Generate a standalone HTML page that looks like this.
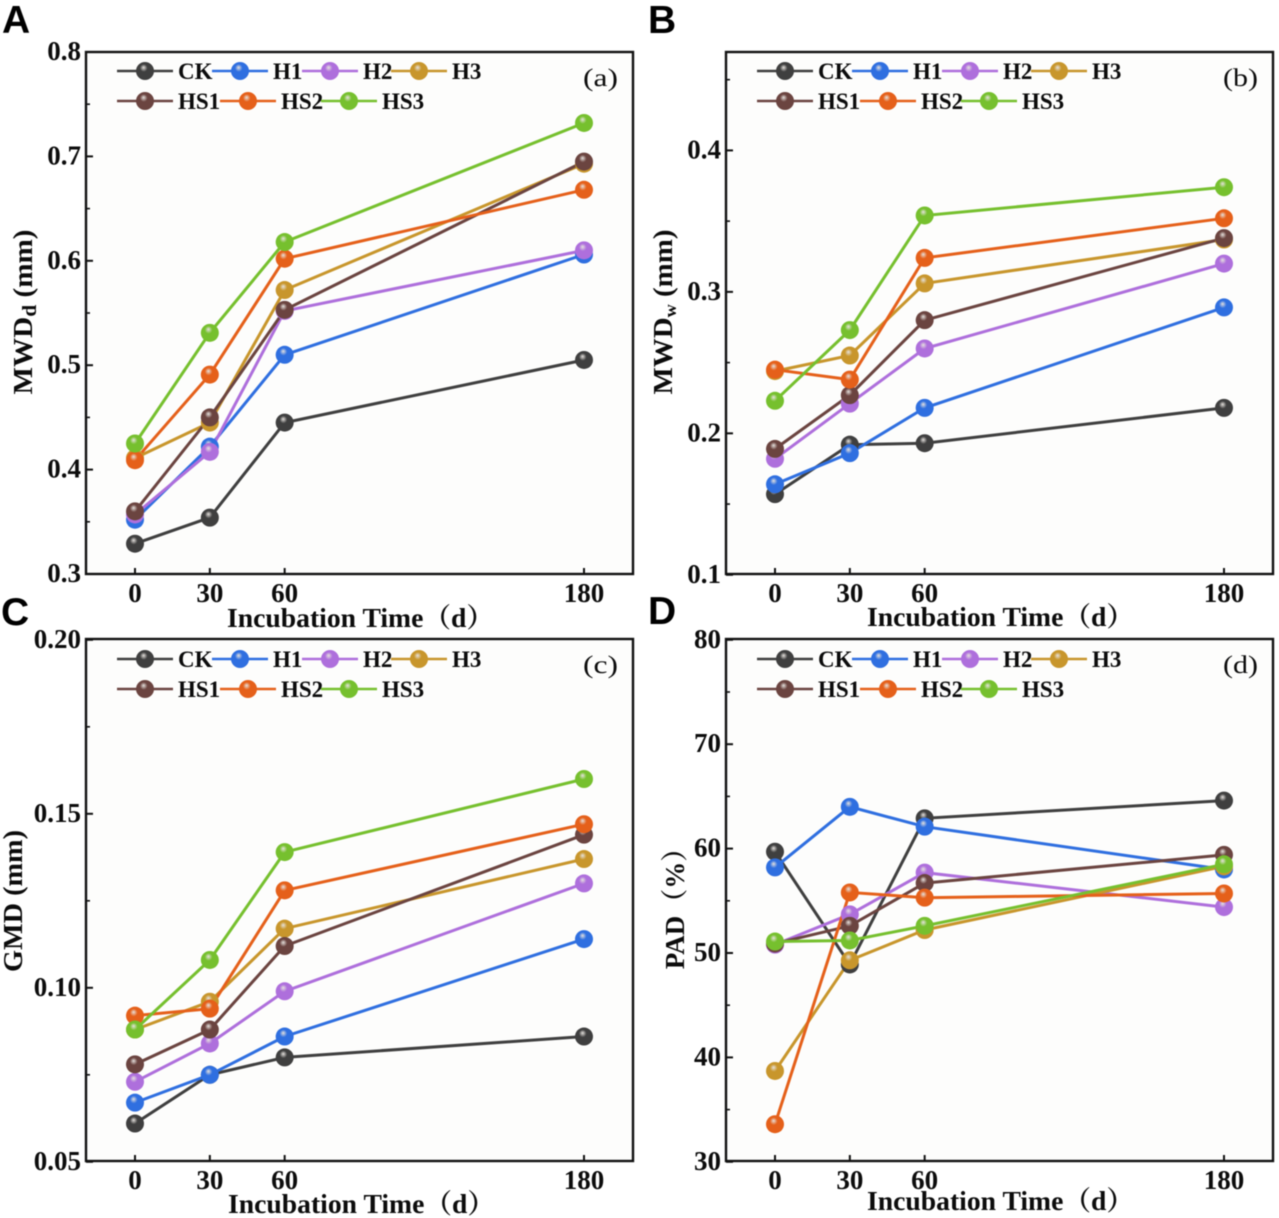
<!DOCTYPE html>
<html lang="en">
<head>
<meta charset="utf-8">
<title>Aggregate stability over incubation time</title>
<style>
html,body{margin:0;padding:0;background:#fff;width:1279px;height:1218px;overflow:hidden}
svg{display:block;filter:blur(0.6px)}
text{font-family:"Liberation Serif","Noto Serif CJK SC",serif;font-weight:bold;fill:#0c0c0c}
.letter{font-family:"Liberation Sans",sans-serif;font-size:39px;fill:#000}
.tick{font-size:27px}
.axt{font-size:27px}
.leg{font-size:23px}
.tag{font-size:25px;font-weight:normal}
</style>
</head>
<body>
<svg id="fig" xmlns="http://www.w3.org/2000/svg" width="1279" height="1218" viewBox="0 0 1279 1218">
<defs id="defs"></defs>
<text class="letter" x="2" y="33">A</text>
<text class="letter" x="648" y="33">B</text>
<text class="letter" x="1" y="625">C</text>
<text class="letter" x="648" y="624">D</text>

<text class="axt" x="227" y="627" textLength="267" lengthAdjust="spacingAndGlyphs">Incubation Time（d）</text>
<text class="axt" x="867" y="626" textLength="267" lengthAdjust="spacingAndGlyphs">Incubation Time（d）</text>
<text class="axt" x="228" y="1213" textLength="267" lengthAdjust="spacingAndGlyphs">Incubation Time（d）</text>
<text class="axt" x="867" y="1210" textLength="267" lengthAdjust="spacingAndGlyphs">Incubation Time（d）</text>

<text class="axt" transform="translate(32,312) rotate(-90)" text-anchor="middle" textLength="165" lengthAdjust="spacingAndGlyphs">MWD<tspan font-size="20" dy="4">d</tspan><tspan dy="-4"> (mm)</tspan></text>
<text class="axt" transform="translate(672,312) rotate(-90)" text-anchor="middle" textLength="165" lengthAdjust="spacingAndGlyphs">MWD<tspan font-size="17" dy="4">w</tspan><tspan dy="-4"> (mm)</tspan></text>
<text class="axt" transform="translate(22,901) rotate(-90)" text-anchor="middle" textLength="142" lengthAdjust="spacingAndGlyphs">GMD (mm)</text>
<text class="axt" transform="translate(684,902) rotate(-90)" text-anchor="middle">PAD（%）</text>
</svg>
<script>
const days = [0, 30, 60, 180];
const seriesNames = ["CK", "H1", "H2", "H3", "HS1", "HS2", "HS3"];
const seriesColors = ["#3f3f3f", "#2f6fe0", "#ae6fdc", "#c8962c", "#6b4440", "#e5601a", "#76c02e"];

const mwdd_CK  = [0.329, 0.354, 0.445, 0.505];
const mwdd_H1  = [0.352, 0.422, 0.510, 0.606];
const mwdd_H2  = [0.357, 0.417, 0.552, 0.610];
const mwdd_H3  = [0.411, 0.445, 0.572, 0.693];
const mwdd_HS1 = [0.360, 0.450, 0.553, 0.695];
const mwdd_HS2 = [0.409, 0.491, 0.602, 0.668];
const mwdd_HS3 = [0.425, 0.531, 0.618, 0.732];

const mwdw_CK  = [0.157, 0.192, 0.193, 0.218];
const mwdw_H1  = [0.164, 0.186, 0.218, 0.289];
const mwdw_H2  = [0.182, 0.221, 0.260, 0.320];
const mwdw_H3  = [0.244, 0.255, 0.306, 0.337];
const mwdw_HS1 = [0.189, 0.227, 0.280, 0.338];
const mwdw_HS2 = [0.245, 0.238, 0.324, 0.352];
const mwdw_HS3 = [0.223, 0.273, 0.354, 0.374];

const gmd_CK  = [0.061, 0.075, 0.080, 0.086];
const gmd_H1  = [0.067, 0.075, 0.086, 0.114];
const gmd_H2  = [0.073, 0.084, 0.099, 0.130];
const gmd_H3  = [0.088, 0.096, 0.117, 0.137];
const gmd_HS1 = [0.078, 0.088, 0.112, 0.144];
const gmd_HS2 = [0.092, 0.094, 0.128, 0.147];
const gmd_HS3 = [0.088, 0.108, 0.139, 0.160];

const pad_CK  = [59.7, 48.9, 62.9, 64.6];
const pad_H1  = [58.2, 64.0, 62.1, 58.0];
const pad_H2  = [50.8, 53.7, 57.7, 54.4];
const pad_H3  = [38.7, 49.3, 52.2, 58.3];
const pad_HS1 = [50.9, 52.6, 56.7, 59.4];
const pad_HS2 = [33.6, 55.8, 55.3, 55.7];
const pad_HS3 = [51.1, 51.2, 52.6, 58.5];

const mwddTicks = ["0.3", "0.4", "0.5", "0.6", "0.7", "0.8"];
const mwdwTicks = ["0.1", "0.2", "0.3", "0.4"];
const gmdTicks  = ["0.05", "0.10", "0.15", "0.20"];
const padTicks  = ["30", "40", "50", "60", "70", "80"];

const svgNS = "http://www.w3.org/2000/svg";
const fig = document.getElementById("fig");
const defs = document.getElementById("defs");

function el(parent, tag, attrs) {
  const node = document.createElementNS(svgNS, tag);
  for (const k in attrs) node.setAttribute(k, attrs[k]);
  parent.appendChild(node);
  return node;
}

seriesColors.forEach(function (c, i) {
  const g = el(defs, "radialGradient", { id: "ball" + i, cx: "0.45", cy: "0.4", r: "0.62", fx: "0.42", fy: "0.3" });
  el(g, "stop", { offset: "0", "stop-color": "#e6e2de" });
  el(g, "stop", { offset: "0.34", "stop-color": c });
  el(g, "stop", { offset: "1", "stop-color": c });
});

function drawMarker(parent, x, y, i) {
  const m = el(parent, "circle", { cx: x, cy: y, r: 9, fill: "url(#ball" + i + ")" });
  
  
}

function drawPanel(key, ox, oy, yMin, yMax, yTicks, series, tag, yNudge) {
  const left = 86 + ox, right = 633 + ox, top = 52 + oy, bottom = 574 + oy;
  const xScale = function (d) { return 135 + ox + d * (449 / 180); };
  const yScale = function (v) { return bottom + yNudge - (v - yMin) / (yMax - yMin) * (bottom - top); };

  const panel = el(fig, "g", {});
  
  

  const bg = el(panel, "rect", { x: left, y: top, width: right - left, height: bottom - top, fill: "#fdfdfc" });
  
  

  const frame = el(panel, "rect", { x: left, y: top, width: right - left, height: bottom - top, fill: "none", stroke: "#111", "stroke-width": 2.4 });
  
  

  days.forEach(function (d) {
    const x = xScale(d);
    const t = el(panel, "line", { x1: x, x2: x, y1: bottom, y2: bottom - 6, stroke: "#111", "stroke-width": 2 });
    
    
    const l = el(panel, "text", { x: x, y: 602 + oy, "text-anchor": "middle", class: "tick" });
    l.textContent = String(d);
    
    
  });

  yTicks.forEach(function (label, i) {
    const v = parseFloat(label);
    const y = yScale(v);
    const t = el(panel, "line", { x1: left, x2: left + 7, y1: y, y2: y, stroke: "#111", "stroke-width": 2 });
    
    
    const l = el(panel, "text", { x: left - 5, y: y + 8, "text-anchor": "end", class: "tick" });
    l.textContent = label;
    
    
    const step = yTicks.length > 1 ? parseFloat(yTicks[1]) - parseFloat(yTicks[0]) : 0;
    const mv = v + step / 2;
    if (mv < yMax) {
      const my = yScale(mv);
      const mt = el(panel, "line", { x1: left, x2: left + 4, y1: my, y2: my, stroke: "#111", "stroke-width": 1.6 });
      
      
    }
  });

  series.forEach(function (vals, i) {
    const pts = vals.map(function (v, j) { return xScale(days[j]).toFixed(1) + "," + yScale(v).toFixed(1); }).join(" ");
    const line = el(panel, "polyline", { points: pts, fill: "none", stroke: seriesColors[i], "stroke-width": 3 });
    
    
  });
  series.forEach(function (vals, i) {
    vals.forEach(function (v, j) { drawMarker(panel, xScale(days[j]), yScale(v), i); });
  });

  const legendStart = [117, 212, 302, 391, 117, 220, 321];
  const legendY = oy > 0 ? 72 + oy : 71;
  series.forEach(function (vals, i) {
    const row = i < 4 ? 0 : 1;
    const ly = legendY + (row ? 30 : 0);
    const lx = legendStart[i] + ox;
    const entry = el(panel, "g", {});
    
    
    const sw = el(entry, "line", { x1: lx, x2: lx + 56, y1: ly, y2: ly, stroke: seriesColors[i], "stroke-width": 2.6 });
    
    
    drawMarker(entry, lx + 28, ly, i);
    const label = el(entry, "text", { x: lx + 61, y: ly + 8, class: "leg" });
    label.textContent = seriesNames[i];
    
    
  });

  const tagText = el(panel, "text", { x: 583 + ox, y: 86 + oy, class: "tag", textLength: 35, lengthAdjust: "spacingAndGlyphs" });
  tagText.textContent = tag;
  
  
}

drawPanel("a", 0, 0, 0.3, 0.8, mwddTicks, [mwdd_CK, mwdd_H1, mwdd_H2, mwdd_H3, mwdd_HS1, mwdd_HS2, mwdd_HS3], "(a)", 0);
drawPanel("b", 640, 0, 0.1, 0.469, mwdwTicks, [mwdw_CK, mwdw_H1, mwdw_H2, mwdw_H3, mwdw_HS1, mwdw_HS2, mwdw_HS3], "(b)", 0.8);
drawPanel("c", 0, 587, 0.05, 0.20, gmdTicks, [gmd_CK, gmd_H1, gmd_H2, gmd_H3, gmd_HS1, gmd_HS2, gmd_HS3], "(c)", 0.8);
drawPanel("d", 640, 587, 30, 80, padTicks, [pad_CK, pad_H1, pad_H2, pad_H3, pad_HS1, pad_HS2, pad_HS3], "(d)", 0.8);
</script>
</body>
</html>
